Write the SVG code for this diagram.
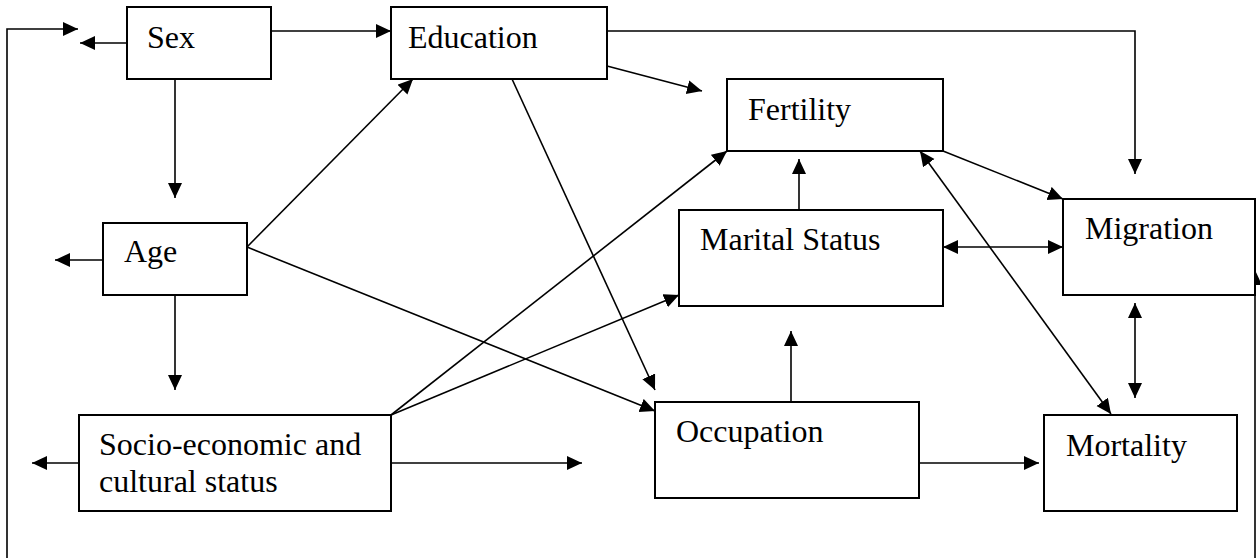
<svg xmlns="http://www.w3.org/2000/svg" width="1260" height="558" viewBox="0 0 1260 558">
<style>
.box{fill:#fff;stroke:#000;stroke-width:2}
.lbl{font-family:"Liberation Serif","Times New Roman",serif;font-size:32px;fill:#000}
.c{fill:none;stroke:#000;stroke-width:1.6}
.a{marker-end:url(#ah)}
.d{marker-start:url(#ah);marker-end:url(#ah)}
</style>
<defs>
<marker id="ah" markerUnits="userSpaceOnUse" markerWidth="16" markerHeight="16" refX="15" refY="7" orient="auto-start-reverse">
<path d="M0,0 L15,7 L0,14 Z" fill="#000"/>
</marker>
</defs>
<rect width="1260" height="558" fill="#fff"/>
<g id="connectors">
<polyline class="c a" points="7,558 7,29 78,29"/>
<line class="c a" x1="127" y1="43" x2="80" y2="43"/>
<line class="c a" x1="271" y1="31" x2="391" y2="31"/>
<line class="c a" x1="175" y1="79" x2="175" y2="198"/>
<line class="c a" x1="103" y1="260" x2="55" y2="260"/>
<line class="c a" x1="175" y1="295" x2="175" y2="390"/>
<line class="c a" x1="247" y1="247" x2="413" y2="79"/>
<line class="c a" x1="247" y1="247" x2="655" y2="411"/>
<line class="c a" x1="607" y1="66" x2="702" y2="91"/>
<polyline class="c a" points="607,31 1135,31 1135,174"/>
<line class="c a" x1="512" y1="79" x2="655" y2="390"/>
<line class="c a" x1="391" y1="415" x2="727" y2="151"/>
<line class="c a" x1="391" y1="415" x2="679" y2="295"/>
<line class="c a" x1="391" y1="463" x2="582" y2="463"/>
<line class="c a" x1="79" y1="463" x2="32" y2="463"/>
<line class="c a" x1="799" y1="210" x2="799" y2="159"/>
<line class="c a" x1="791" y1="402" x2="791" y2="331"/>
<line class="c a" x1="919" y1="463" x2="1039" y2="463"/>
<line class="c a" x1="943" y1="151" x2="1063" y2="199"/>
<line class="c d" x1="943" y1="247" x2="1063" y2="247"/>
<line class="c d" x1="920" y1="151" x2="1111" y2="414"/>
<line class="c d" x1="1135" y1="303" x2="1135" y2="398"/>
<line class="c a" x1="1255" y1="558" x2="1255" y2="270"/>
</g>
<g id="sex"><rect class="box" x="127" y="7" width="144" height="72"/><text class="lbl" x="147" y="48">Sex</text></g>
<g id="education"><rect class="box" x="391" y="7" width="216" height="72"/><text class="lbl" x="408" y="48">Education</text></g>
<g id="fertility"><rect class="box" x="727" y="79" width="216" height="72"/><text class="lbl" x="748" y="120">Fertility</text></g>
<g id="age"><rect class="box" x="103" y="223" width="144" height="72"/><text class="lbl" x="124" y="262">Age</text></g>
<g id="marital"><rect class="box" x="679" y="210" width="264" height="96"/><text class="lbl" x="700" y="250">Marital Status</text></g>
<g id="migration"><rect class="box" x="1063" y="199" width="192" height="96"/><text class="lbl" x="1085" y="239">Migration</text></g>
<g id="socio"><rect class="box" x="79" y="415" width="312" height="96"/><text class="lbl" x="99" y="455">Socio-economic and</text><text class="lbl" x="99" y="492">cultural status</text></g>
<g id="occupation"><rect class="box" x="655" y="402" width="264" height="96"/><text class="lbl" x="676" y="442">Occupation</text></g>
<g id="mortality"><rect class="box" x="1044" y="415" width="193" height="96"/><text class="lbl" x="1066" y="456">Mortality</text></g>
</svg>
